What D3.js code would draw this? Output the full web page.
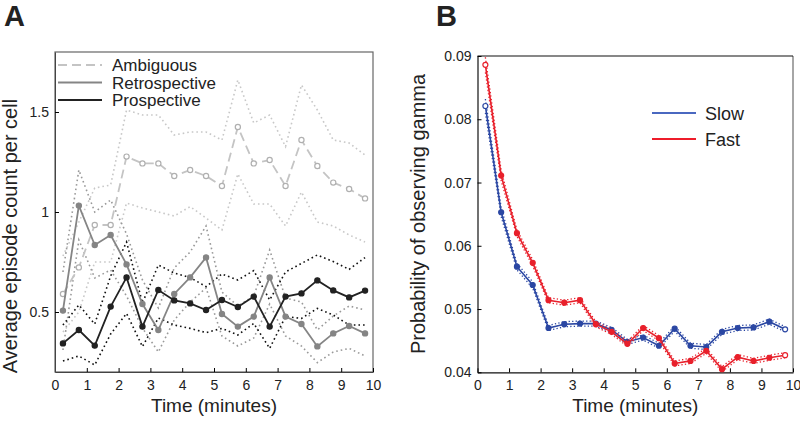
<!DOCTYPE html>
<html>
<head>
<meta charset="utf-8">
<script src="https://cdn.jsdelivr.net/npm/d3@7"></script>
<style>
  body { margin: 0; background: #fff; }
  svg text { font-family: "Liberation Sans", Arial, sans-serif; fill: #222; }
</style>
</head>
<body>
<script>
// ---- data ----
var minutes = [0.25, 0.75, 1.25, 1.75, 2.25, 2.75, 3.25, 3.75, 4.25, 4.75,
               5.25, 5.75, 6.25, 6.75, 7.25, 7.75, 8.25, 8.75, 9.25, 9.75];
var xTicks = [0, 1, 2, 3, 4, 5, 6, 7, 8, 9, 10];

// panel A
var ambiguous      = [0.59, 0.723, 0.935, 0.935, 1.277, 1.243, 1.243, 1.18, 1.21, 1.18,
                      1.13, 1.425, 1.243, 1.26, 1.13, 1.36, 1.23, 1.147, 1.115, 1.068];
var ambiguousHi    = [0.78, 0.95, 1.12, 1.135, 1.51, 1.485, 1.485, 1.385, 1.40, 1.40,
                      1.36, 1.66, 1.445, 1.485, 1.327, 1.635, 1.51, 1.36, 1.345, 1.285];
var ambiguousLo    = [0.40, 0.50, 0.75, 0.75, 1.045, 1.02, 1.0, 0.98, 1.027, 0.97,
                      0.91, 1.19, 1.04, 1.04, 0.93, 1.10, 0.95, 0.93, 0.885, 0.85];
var retrospective  = [0.507, 1.032, 0.835, 0.885, 0.738, 0.54, 0.41, 0.59, 0.673, 0.773,
                      0.49, 0.427, 0.477, 0.673, 0.477, 0.44, 0.328, 0.393, 0.43, 0.393];
var retroHi        = [0.70, 1.21, 1.0, 1.06, 0.89, 0.66, 0.52, 0.72, 0.80, 0.93,
                      0.60, 0.53, 0.58, 0.81, 0.57, 0.55, 0.41, 0.48, 0.53, 0.51];
var retroLo        = [0.31, 0.86, 0.67, 0.71, 0.58, 0.42, 0.30, 0.46, 0.55, 0.62,
                      0.38, 0.33, 0.37, 0.54, 0.38, 0.33, 0.247, 0.30, 0.318, 0.28];
var prospective    = [0.343, 0.41, 0.332, 0.527, 0.673, 0.427, 0.61, 0.558, 0.543, 0.51,
                      0.56, 0.525, 0.577, 0.427, 0.577, 0.593, 0.658, 0.608, 0.573, 0.607];
var prospHi        = [0.435, 0.535, 0.44, 0.68, 0.85, 0.545, 0.735, 0.695, 0.672, 0.627,
                      0.69, 0.66, 0.707, 0.56, 0.70, 0.743, 0.785, 0.752, 0.713, 0.772];
var prospLo        = [0.255, 0.28, 0.235, 0.39, 0.493, 0.327, 0.47, 0.435, 0.418, 0.397,
                      0.418, 0.385, 0.443, 0.318, 0.477, 0.468, 0.518, 0.485, 0.435, 0.435];
var aYTicks = [0.5, 1, 1.5];

// panel B
var slow   = [0.0821, 0.0653, 0.0567, 0.0538, 0.0470, 0.0476, 0.0477, 0.0477, 0.0467, 0.0448,
              0.0455, 0.0442, 0.0469, 0.0442, 0.0440, 0.0464, 0.0470, 0.0471, 0.0480, 0.0468];
var slowSE = [0.0011, 0.0007, 0.0005, 0.0005, 0.0004, 0.0004, 0.0004, 0.0004, 0.0004, 0.0004,
              0.0004, 0.0004, 0.0004, 0.0004, 0.0004, 0.0004, 0.0004, 0.0004, 0.0004, 0.0004];
var fast   = [0.0886, 0.0711, 0.0620, 0.0573, 0.0514, 0.0510, 0.0514, 0.0476, 0.0464, 0.0445,
              0.0470, 0.0454, 0.0414, 0.0418, 0.0434, 0.0405, 0.0424, 0.0418, 0.0423, 0.0427];
var fastSE = [0.0012, 0.0008, 0.0005, 0.0005, 0.0004, 0.0004, 0.0004, 0.0004, 0.0004, 0.0004,
              0.0004, 0.0004, 0.0004, 0.0004, 0.0004, 0.0004, 0.0004, 0.0004, 0.0004, 0.0004];
var bYTicks = [0.04, 0.05, 0.06, 0.07, 0.08, 0.09];

var svg = d3.select("body").append("svg")
    .attr("width", 800)
    .attr("height", 423);

// ================= panel A =================
var xA = d3.scaleLinear().domain([0, 10]).range([55, 373]);
var yA = d3.scaleLinear().domain([0.2, 1.8]).range([372, 52]);

var gA = svg.append("g");

gA.append("rect")
    .attr("x", xA(0)).attr("y", yA(1.8))
    .attr("width", xA(10) - xA(0)).attr("height", yA(0.2) - yA(1.8))
    .attr("fill", "none").attr("stroke", "#666").attr("stroke-width", 1.2);

gA.append("g")
    .attr("transform", "translate(0," + yA(0.2) + ")")
    .call(d3.axisBottom(xA).tickValues(xTicks).tickSizeInner(-4).tickSizeOuter(0).tickPadding(8))
    .call(function(g) { g.select(".domain").attr("stroke", "#444"); })
    .call(function(g) { g.selectAll("text").attr("font-size", 14); });

gA.append("g")
    .attr("transform", "translate(" + xA(0) + ",0)")
    .call(d3.axisLeft(yA).tickValues(aYTicks).tickFormat(d3.format("")).tickSizeInner(-4).tickSizeOuter(0).tickPadding(6))
    .call(function(g) { g.select(".domain").attr("stroke", "#444"); })
    .call(function(g) { g.selectAll("text").attr("font-size", 14); });

function lineA(vals) {
  return d3.line().x(function(d, i) { return xA(minutes[i]); }).y(function(d) { return yA(d); })(vals);
}

// bands (dotted)
var bandsA = [
  { vals: ambiguousHi, color: "#c8c8c8" }, { vals: ambiguousLo, color: "#c8c8c8" },
  { vals: retroHi, color: "#999" }, { vals: retroLo, color: "#999" },
  { vals: prospHi, color: "#111" }, { vals: prospLo, color: "#111" }
];
bandsA.forEach(function(b) {
  gA.append("path").attr("d", lineA(b.vals))
    .attr("fill", "none").attr("stroke", b.color)
    .attr("stroke-width", 1.6).attr("stroke-dasharray", "1.6,3");
});

// means
var seriesA = [
  { vals: ambiguous, color: "#c4c4c4", dash: "9,5", fill: "#fff", stroke: "#b0b0b0" },
  { vals: retrospective, color: "#858585", dash: null, fill: "#858585", stroke: "#858585" },
  { vals: prospective, color: "#222", dash: null, fill: "#222", stroke: "#222" }
];
seriesA.forEach(function(s) {
  gA.append("path").attr("d", lineA(s.vals))
    .attr("fill", "none").attr("stroke", s.color)
    .attr("stroke-width", 1.8).attr("stroke-dasharray", s.dash);
  gA.append("g").selectAll("circle").data(s.vals).enter().append("circle")
    .attr("cx", function(d, i) { return xA(minutes[i]); })
    .attr("cy", function(d) { return yA(d); })
    .attr("r", 2.6)
    .attr("fill", s.fill).attr("stroke", s.stroke).attr("stroke-width", 1.2);
});

// legend A
var legA = [
  { name: "Ambiguous", color: "#c4c4c4", dash: "9,5" },
  { name: "Retrospective", color: "#858585", dash: null },
  { name: "Prospective", color: "#222", dash: null }
];
legA.forEach(function(l, i) {
  var y = 65 + i * 17.5;
  gA.append("line").attr("x1", 58).attr("x2", 102).attr("y1", y).attr("y2", y)
    .attr("stroke", l.color).attr("stroke-width", 1.8).attr("stroke-dasharray", l.dash);
  gA.append("text").attr("x", 112).attr("y", y + 6).attr("font-size", 17).text(l.name);
});

gA.append("text").attr("x", xA(5)).attr("y", 412).attr("text-anchor", "middle")
  .attr("font-size", 19).text("Time (minutes)");
gA.append("text").attr("transform", "translate(17,236) rotate(-90)").attr("text-anchor", "middle")
  .attr("font-size", 20).text("Average episode count per cell");
gA.append("text").attr("x", 4).attr("y", 26).attr("font-size", 29).attr("font-weight", "bold").text("A");

// ================= panel B =================
var xB = d3.scaleLinear().domain([0, 10]).range([477.5, 793]);
var yB = d3.scaleLinear().domain([0.04, 0.09]).range([372.3, 56]);

var gB = svg.append("g");

// frame: top/left/bottom black, right gray
gB.append("line").attr("x1", xB(10)).attr("x2", xB(10)).attr("y1", yB(0.09)).attr("y2", yB(0.04))
  .attr("stroke", "#888").attr("stroke-width", 1.5);
gB.append("line").attr("x1", xB(0)).attr("x2", xB(10)).attr("y1", yB(0.09)).attr("y2", yB(0.09))
  .attr("stroke", "#111").attr("stroke-width", 1.2);

gB.append("g")
    .attr("transform", "translate(0," + yB(0.04) + ")")
    .call(d3.axisBottom(xB).tickValues(xTicks).tickSizeInner(-4).tickSizeOuter(0).tickPadding(8))
    .call(function(g) { g.select(".domain").attr("stroke", "#111").attr("stroke-width", 1.2); })
    .call(function(g) { g.selectAll("text").attr("font-size", 14); });

gB.append("g")
    .attr("transform", "translate(" + xB(0) + ",0)")
    .call(d3.axisLeft(yB).tickValues(bYTicks).tickFormat(d3.format(".2f")).tickSizeInner(-4).tickSizeOuter(0).tickPadding(6))
    .call(function(g) { g.select(".domain").attr("stroke", "#111").attr("stroke-width", 1.2); })
    .call(function(g) { g.selectAll("text").attr("font-size", 14); });

function lineB(vals, se, k) {
  return d3.line().x(function(d, i) { return xB(minutes[i]); })
    .y(function(d, i) { return yB(d + k * se[i]); })(vals);
}

var seriesB = [
  { vals: slow, se: slowSE, color: "#2b47a3" },
  { vals: fast, se: fastSE, color: "#e8202b" }
];
seriesB.forEach(function(s) {
  [-1, 1].forEach(function(k) {
    gB.append("path").attr("d", lineB(s.vals, s.se, k))
      .attr("fill", "none").attr("stroke", s.color)
      .attr("stroke-width", 1.3).attr("stroke-dasharray", "1.3,2.2");
  });
  gB.append("path").attr("d", lineB(s.vals, s.se, 0))
    .attr("fill", "none").attr("stroke", s.color).attr("stroke-width", 1.6);
  gB.append("g").selectAll("circle").data(s.vals).enter().append("circle")
    .attr("cx", function(d, i) { return xB(minutes[i]); })
    .attr("cy", function(d) { return yB(d); })
    .attr("r", 2.5)
    .attr("fill", function(d, i) { return (i === 0 || i === s.vals.length - 1) ? "#fff" : s.color; })
    .attr("stroke", s.color).attr("stroke-width", 1.2);
});

// legend B
var legB = [
  { name: "Slow", color: "#4a68c0" },
  { name: "Fast", color: "#ee1c2a" }
];
legB.forEach(function(l, i) {
  var y = 113 + i * 26;
  gB.append("line").attr("x1", 652).attr("x2", 696).attr("y1", y).attr("y2", y)
    .attr("stroke", l.color).attr("stroke-width", 1.8);
  gB.append("text").attr("x", 705).attr("y", y + 6.5).attr("font-size", 18).text(l.name);
});

gB.append("text").attr("x", xB(5)).attr("y", 412).attr("text-anchor", "middle")
  .attr("font-size", 19).text("Time (minutes)");
gB.append("text").attr("transform", "translate(425,214) rotate(-90)").attr("text-anchor", "middle")
  .attr("font-size", 20).text("Probability of observing gamma");
gB.append("text").attr("x", 436).attr("y", 26).attr("font-size", 29).attr("font-weight", "bold").text("B");
</script>
</body>
</html>
